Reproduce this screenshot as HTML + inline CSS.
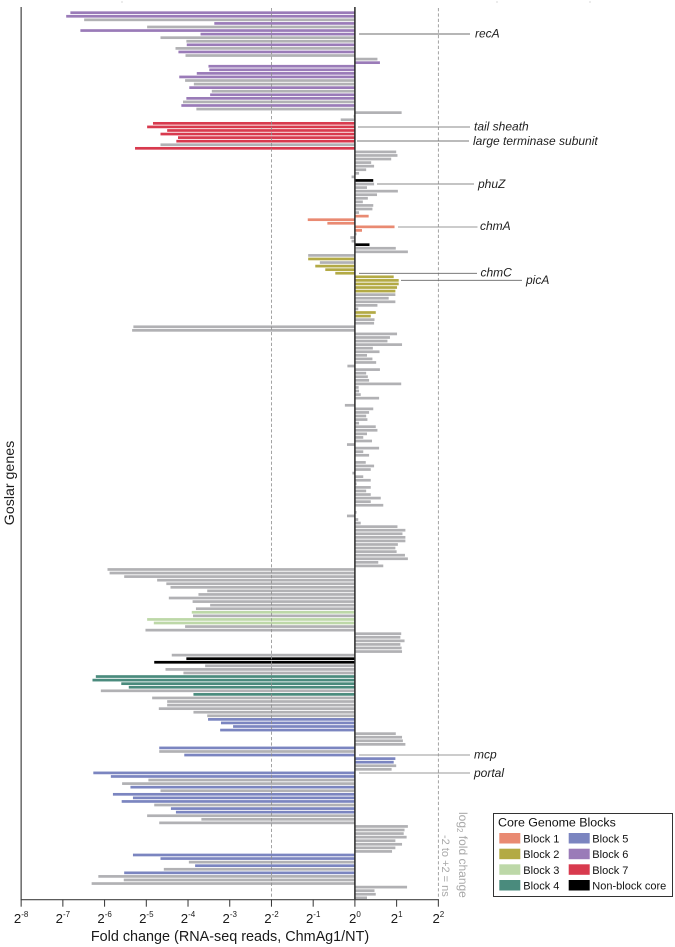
<!DOCTYPE html>
<html>
<head>
<meta charset="utf-8">
<title>Goslar gene fold change</title>
<style>
html,body{margin:0;padding:0;background:#fff;width:675px;height:947px;overflow:hidden}
svg{display:block;font-family:"Liberation Sans",Arial,sans-serif}
</style>
</head>
<body>
<svg id="chart" xmlns="http://www.w3.org/2000/svg" width="675" height="947" viewBox="0 0 675 947">
  <g fill="#d8d8d8">
    <rect x="121" y="1.5" width="2" height="1"/>
    <rect x="496" y="1.5" width="2" height="1"/>
    <rect x="589" y="1.5" width="2" height="1"/>
  </g>
  <g id="bars"></g>
  <g id="refs"></g>
  <g id="axes"></g>

  <text transform="translate(14,483) rotate(-90)" text-anchor="middle" font-size="14.2" fill="#1a1a1a">Goslar genes</text>
  <text x="230" y="941" text-anchor="middle" font-size="14.4" fill="#1a1a1a">Fold change (RNA-seq reads, ChmAg1/NT)</text>

  <g font-size="12" font-style="italic" fill="#222" stroke-width="0.9">
    <line x1="359" x2="470" y1="34" y2="34" stroke="#6e6e6e"/>
    <text x="475" y="37.5">recA</text>
    <line x1="358" x2="470" y1="127" y2="127" stroke="#8a8a8a"/>
    <text x="474" y="130.7">tail sheath</text>
    <line x1="357" x2="469" y1="141" y2="141" stroke="#777"/>
    <text x="473" y="145">large terminase subunit</text>
    <line x1="377" x2="474" y1="184" y2="184" stroke="#8a8a8a"/>
    <text x="478" y="188">phuZ</text>
    <line x1="398" x2="477.5" y1="227" y2="227" stroke="#999"/>
    <text x="480" y="230">chmA</text>
    <line x1="359" x2="477" y1="273.3" y2="273.3" stroke="#666"/>
    <text x="480.5" y="276.7">chmC</text>
    <line x1="401" x2="522" y1="280.3" y2="280.3" stroke="#666"/>
    <text x="526" y="284">picA</text>
    <line x1="359" x2="470" y1="755" y2="755" stroke="#999"/>
    <text x="474" y="758.5">mcp</text>
    <line x1="359" x2="470" y1="773" y2="773" stroke="#999"/>
    <text x="474" y="777">portal</text>
  </g>

  <g font-size="12" fill="#a9a9a9">
    <text transform="translate(459,812) rotate(90)">log<tspan font-size="8" dy="2">2</tspan><tspan dy="-2"> fold change</tspan></text>
    <text transform="translate(441.8,835) rotate(90)" font-size="11">-2 to +2 = ns</text>
  </g>

  <g>
    <rect x="493.5" y="813.5" width="179" height="83" fill="#fff" stroke="#333" stroke-width="1"/>
    <text x="498" y="826.7" font-size="12.4" fill="#111">Core Genome Blocks</text>
    <g font-size="11" fill="#111">
      <rect x="499.3" y="833" width="21" height="10.5" fill="#e98a72"/>
      <text x="523.3" y="842.5">Block 1</text>
      <rect x="499.3" y="848.7" width="21" height="10.5" fill="#b3aa45"/>
      <text x="523.3" y="858.2">Block 2</text>
      <rect x="499.3" y="864.3" width="21" height="10.5" fill="#bdd8a8"/>
      <text x="523.3" y="873.8">Block 3</text>
      <rect x="499.3" y="880" width="21" height="10.5" fill="#4a8b7d"/>
      <text x="523.3" y="889.5">Block 4</text>
      <rect x="568.7" y="833" width="21" height="10.5" fill="#7b85c0"/>
      <text x="592.3" y="842.5">Block 5</text>
      <rect x="568.7" y="848.7" width="21" height="10.5" fill="#9a7bb8"/>
      <text x="592.3" y="858.2">Block 6</text>
      <rect x="568.7" y="864.3" width="21" height="10.5" fill="#d83a4e"/>
      <text x="592.3" y="873.8">Block 7</text>
      <rect x="568.7" y="880" width="21" height="10.5" fill="#000"/>
      <text x="592.3" y="889.5">Non-block core</text>
    </g>
  </g>
</svg>
<script>
// log2 fold change for each gene, top to bottom
var log2FoldChange = [
-6.82,-6.92,-6.49,-3.37,-4.98,-6.58,-3.70,-4.66,-4.04,-4.03,
-4.30,-4.23,-4.06,0.54,0.60,-3.51,-3.49,-3.79,-4.21,-4.07,
-3.86,-3.97,-3.43,-3.47,-4.04,-4.12,-4.16,-3.80,1.12,-0.03,
-0.34,-4.84,-4.98,-4.50,-4.66,-4.24,-4.28,-4.66,-5.27,0.99,
1.02,0.87,0.39,0.46,0.27,0.10,-0.08,0.44,0.46,0.29,
1.03,0.53,0.31,0.19,0.44,0.42,0.10,0.33,-1.13,-0.66,
0.95,0.17,0.04,-0.11,-0.08,0.35,0.98,1.27,-1.12,-1.12,
-0.84,-0.95,-0.71,-0.47,0.93,1.05,1.05,1.01,0.97,0.97,
0.81,0.97,0.54,0.08,0.50,0.38,0.47,0.46,-5.31,-5.34,
1.01,0.84,0.78,1.13,0.43,0.59,0.29,0.42,0.51,-0.18,
0.60,0.27,0.31,0.34,1.11,0.09,0.10,0.14,0.58,0,
-0.24,0.44,0.34,0.27,0.30,0.10,0.50,0.54,0.29,0.20,
0.41,-0.19,0.58,0.20,0.34,0,0.26,0.46,0.38,-0.06,
0.20,0.38,0.04,0.38,0.27,0.38,0.62,0.38,0.68,0,
0.04,-0.19,0.08,0.14,1.02,1.21,1.14,1.21,1.21,1.03,
0.97,1.00,1.20,1.27,0.56,0.68,-5.93,-5.88,-5.53,-4.74,
-4.52,-4.42,-3.54,-3.75,-4.46,-3.89,-3.47,-3.81,-3.91,-3.88,
-4.98,-4.82,-4.07,-5.02,1.11,1.09,1.19,1.09,1.12,1.13,
-4.39,-4.04,-4.81,-3.59,-4.54,-4.11,-6.21,-6.29,-5.60,-5.42,
-6.09,-3.87,-4.86,-4.50,-4.50,-4.70,-3.87,-3.54,-3.52,-3.21,
-2.92,-3.23,0.98,1.13,1.15,1.21,-4.69,-4.69,-4.09,0.97,
0.93,0.99,0.88,-6.27,-5.85,-4.95,-5.58,-5.38,-4.66,-5.80,
-5.32,-5.59,-4.81,-4.41,-4.29,-4.98,-3.68,-4.69,1.27,1.19,
1.17,1.24,0.97,1.13,0.97,0.89,-5.32,-4.66,-3.98,-3.83,
-4.58,-5.53,-6.15,-5.54,-6.31,1.25,0.47,0.50,0.29
];
// core genome block per gene: 0 = not core, 1-7 = block, 8 = non-block core
var geneBlock = [
6,6,0,6,0,6,6,0,0,6,
0,6,0,0,6,6,6,6,6,0,
0,6,0,6,6,0,6,0,0,0,
0,7,7,7,7,7,7,0,7,0,
0,0,0,0,0,0,0,8,0,0,
0,0,0,0,0,0,0,1,1,1,
1,1,0,0,0,8,0,0,0,2,
0,2,2,2,2,2,2,2,2,0,
0,0,0,0,2,2,0,0,0,0,
0,0,0,0,0,0,0,0,0,0,
0,0,0,0,0,0,0,0,0,0,
0,0,0,0,0,0,0,0,0,0,
0,0,0,0,0,0,0,0,0,0,
0,0,0,0,0,0,0,0,0,0,
0,0,0,0,0,0,0,0,0,0,
0,0,0,0,0,0,0,0,0,0,
0,0,0,0,0,0,0,0,3,0,
3,3,0,0,0,0,0,0,0,0,
0,8,8,0,0,0,4,4,4,4,
0,4,0,0,0,0,0,0,5,5,
5,5,0,0,0,0,5,0,5,5,
5,0,0,5,5,0,0,5,0,5,
5,5,0,5,5,0,0,0,0,0,
0,0,0,0,0,0,5,5,0,5,
0,5,0,0,0,0,0,0,0
];
var blockColours = ["#b1b1b4","#e98a72","#b3aa45","#bdd8a8","#4a8b7d","#7b85c0","#9a7bb8","#d83a4e","#000000"];
var tickExponents = [-8,-7,-6,-5,-4,-3,-2,-1,0,1,2];
var thresholdExponents = [-2,2];

var NS = "http://www.w3.org/2000/svg";
function xScale(v){ return 354.9 + v * 41.72; }
function yScale(i){ return 12.7 + i * 3.569; }
function make(tag, parent){ var el = document.createElementNS(NS, tag); parent.appendChild(el); return el; }

var barsGroup = document.getElementById("bars");
log2FoldChange.forEach(function(v, i){
  if (v === 0) return;
  var r = make("rect", barsGroup);
  
  
  var x0 = xScale(0), x1 = xScale(v);
  r.setAttribute("x", Math.min(x0, x1));
  r.setAttribute("width", Math.abs(x1 - x0));
  r.setAttribute("y", yScale(i) - 1.35);
  r.setAttribute("height", 2.7);
  r.setAttribute("fill", blockColours[geneBlock[i]]);
});

var refsGroup = document.getElementById("refs");
thresholdExponents.forEach(function(t){
  var l = make("line", refsGroup);
  
  
  l.setAttribute("x1", xScale(t));
  l.setAttribute("x2", xScale(t));
  l.setAttribute("y1", 8);
  l.setAttribute("y2", 899.7);
  l.setAttribute("stroke", "#8d8d8d");
  l.setAttribute("stroke-width", 0.8);
  l.setAttribute("stroke-dasharray", "3.2 2.2");
});

var axesGroup = document.getElementById("axes");
var zeroLine = make("line", axesGroup);


zeroLine.setAttribute("x1", xScale(0));
zeroLine.setAttribute("x2", xScale(0));
zeroLine.setAttribute("y1", 7);
zeroLine.setAttribute("y2", 900);
zeroLine.setAttribute("stroke", "#2a2a2a");
zeroLine.setAttribute("stroke-width", 1.5);

var yAxisLine = make("line", axesGroup);


yAxisLine.setAttribute("x1", xScale(-8));
yAxisLine.setAttribute("x2", xScale(-8));
yAxisLine.setAttribute("y1", 7);
yAxisLine.setAttribute("y2", 900);
yAxisLine.setAttribute("stroke", "#444");
yAxisLine.setAttribute("stroke-width", 1.2);

var xAxisLine = make("line", axesGroup);


xAxisLine.setAttribute("x1", xScale(-8) - 0.5);
xAxisLine.setAttribute("x2", xScale(2) + 0.5);
xAxisLine.setAttribute("y1", 899.7);
xAxisLine.setAttribute("y2", 899.7);
xAxisLine.setAttribute("stroke", "#444");
xAxisLine.setAttribute("stroke-width", 1.1);

tickExponents.forEach(function(e){
  var t = make("line", axesGroup);
  
  
  t.setAttribute("x1", xScale(e));
  t.setAttribute("x2", xScale(e));
  t.setAttribute("y1", 899.7);
  t.setAttribute("y2", 906.7);
  t.setAttribute("stroke", "#333");
  t.setAttribute("stroke-width", 1);

  var lab = make("text", axesGroup);
  
  
  lab.setAttribute("x", xScale(e));
  lab.setAttribute("y", 923);
  lab.setAttribute("text-anchor", "middle");
  lab.setAttribute("font-size", 13.2);
  lab.setAttribute("fill", "#1a1a1a");
  var base = make("tspan", lab);
  base.textContent = "2";
  var sup = make("tspan", lab);
  sup.setAttribute("dy", -6);
  sup.setAttribute("font-size", 8);
  sup.textContent = String(e);
});
</script>
</body>
</html>
